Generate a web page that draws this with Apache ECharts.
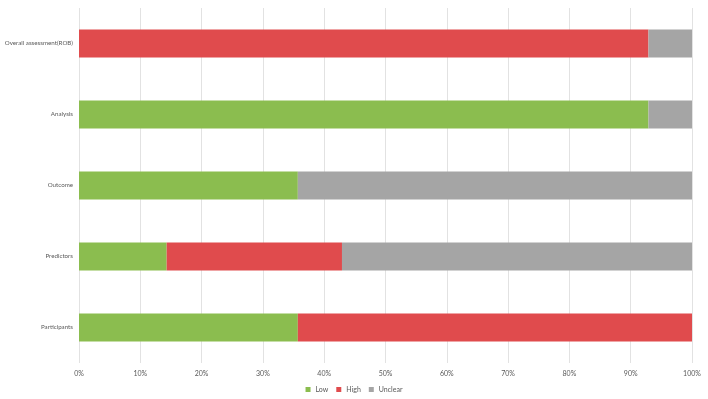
<!DOCTYPE html>
<html><head><meta charset="utf-8">
<script src="https://cdn.jsdelivr.net/npm/echarts@6/dist/echarts.min.js"></script>
<style>html,body{margin:0;padding:0;background:#fff}#c{width:708px;height:399px}</style>
</head><body><div id="c"></div>
<script>
const categories = ['Participants','Predictors','Outcome','Analysis','Overall assessment(ROB)'];
const lowValues = [35.7, 14.3, 35.7, 92.9, 0];
const highValues = [64.3, 28.6, 0, 0, 92.9];
const unclearValues = [0, 57.1, 64.3, 7.1, 7.1];
const seriesNames = ['Low','High','Unclear'];

const chart = echarts.init(document.getElementById('c'));
const txt = {color:'#595959', fontFamily:'Lato', fontSize:7};
const mk = (name, data, color) => ({
  name, type:'bar', stack:'a', data, barWidth:28,
  itemStyle:{color}, emphasis:{disabled:true}
});
chart.setOption({
  animation:false,
  grid:{left:79, right:16, top:8, bottom:36, containLabel:false, outerBoundsMode:'none'},
  xAxis:{type:'value', min:0, max:100, interval:10,
    axisLabel:Object.assign({formatter:'{value}%', margin:7}, txt),
    axisLine:{show:false}, axisTick:{show:false},
    splitLine:{lineStyle:{color:'#e2e2e2', width:1}}},
  yAxis:{type:'category', data:categories,
    axisLabel:{margin:6, color:'#595959', fontFamily:'Lato', fontSize:6.2},
    axisLine:{show:false}, axisTick:{show:false}},
  legend:{data:seriesNames, top:381, left:'center', itemWidth:5, itemHeight:5, itemGap:8,
    textStyle:txt, icon:'rect'},
  series:[mk('Low', lowValues, '#8BBD4F'), mk('High', highValues, '#E04B4D'), mk('Unclear', unclearValues, '#A5A5A5')]
});
</script></body></html>
